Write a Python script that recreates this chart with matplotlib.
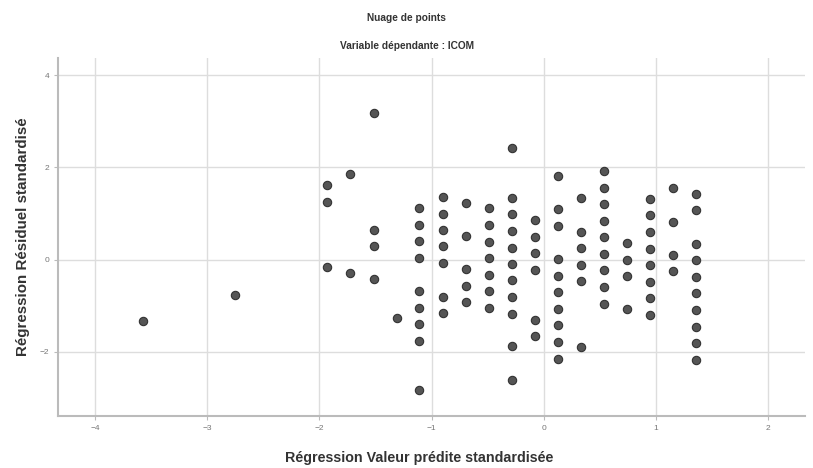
import matplotlib.pyplot as plt

plt.rcParams['font.family'] = ['Liberation Sans', 'DejaVu Sans']

# valeurs (colonnes de valeurs prédites)
pred_x = [-3.575, -2.75,
          -1.93, -1.93, -1.93,
          -1.73, -1.73,
          -1.51, -1.51, -1.51, -1.51,
          -1.31]
resid_y = [-1.34, -0.77,
           1.62, 1.26, -0.17,
           1.86, -0.30,
           3.17, 0.65, 0.29, -0.42,
           -1.26]

columns = {
    -1.11: [1.12, 0.76, 0.40, 0.04, -0.67, -1.04, -1.40, -1.76, -2.83],
    -0.90: [1.36, 1.00, 0.64, 0.29, -0.07, -0.80, -1.16],
    -0.695: [1.23, 0.52, -0.20, -0.57, -0.92],
    -0.49: [1.11, 0.75, 0.39, 0.03, -0.33, -0.69, -1.05],
    -0.285: [2.42, 1.34, 0.99, 0.62, 0.26, -0.09, -0.45, -0.81, -1.17, -1.88, -2.61],
    -0.077: [0.86, 0.50, 0.14, -0.22, -1.30, -1.66],
    0.128: [1.81, 1.09, 0.73, 0.01, -0.35, -0.70, -1.07, -1.42, -1.78, -2.15],
    0.33: [1.34, 0.61, 0.25, -0.11, -0.46, -1.90],
    0.537: [1.93, 1.56, 1.20, 0.84, 0.49, 0.13, -0.23, -0.59, -0.96],
    0.742: [0.36, 0.00, -0.36, -1.07],
    0.95: [1.31, 0.96, 0.59, 0.23, -0.12, -0.48, -0.84, -1.20],
    1.15: [1.55, 0.82, 0.11, -0.25],
    1.36: [1.43, 1.07, 0.34, -0.01, -0.37, -0.73, -1.09, -1.45, -1.81, -2.17],
}
for cx, ys in columns.items():
    pred_x += [cx] * len(ys)
    resid_y += ys

x_ticks = [-4, -3, -2, -1, 0, 1, 2]
y_ticks = [-2, 0, 2, 4]

fig = plt.figure(figsize=(8.13, 4.68), dpi=100)
ax = fig.add_axes([0.0713, 0.111, 0.919, 0.765])

ax.scatter(pred_x, resid_y, s=36, c='#555555', edgecolors='#333333',
           linewidths=0.8, zorder=3)

ax.set_xlim(-4.33, 2.33)
ax.set_ylim(-3.39, 4.37)
ax.set_xticks(x_ticks)
ax.set_yticks(y_ticks)
ax.grid(True, color='#dddddd', linewidth=1.0, zorder=0)
ax.set_axisbelow(True)

for side in ['top', 'right']:
    ax.spines[side].set_visible(False)
for side in ['left', 'bottom']:
    ax.spines[side].set_color('#bbbbbb')
    ax.spines[side].set_linewidth(1.5)
ax.tick_params(colors='#bbbbbb', labelcolor='#777777', labelsize=6,
               length=3, width=0.8)

ax.set_xlabel("Régression Valeur prédite standardisée", fontsize=10.3,
              fontweight='bold', color='#333333')
ax.set_ylabel("Régression Résiduel standardisé", fontsize=10.9,
              fontweight='bold', color='#333333')
ax.xaxis.set_label_coords(0.483, -0.098)
ax.yaxis.set_label_coords(-0.038, 0.5)

fig.text(0.5, 0.962, "Nuage de points", ha='center', va='center',
         fontsize=7.3, fontweight='bold', color='#333333')
fig.text(0.5, 0.902, "Variable dépendante : ICOM", ha='center', va='center',
         fontsize=7.3, fontweight='bold', color='#333333')

fig.savefig("out.png", dpi=100)
